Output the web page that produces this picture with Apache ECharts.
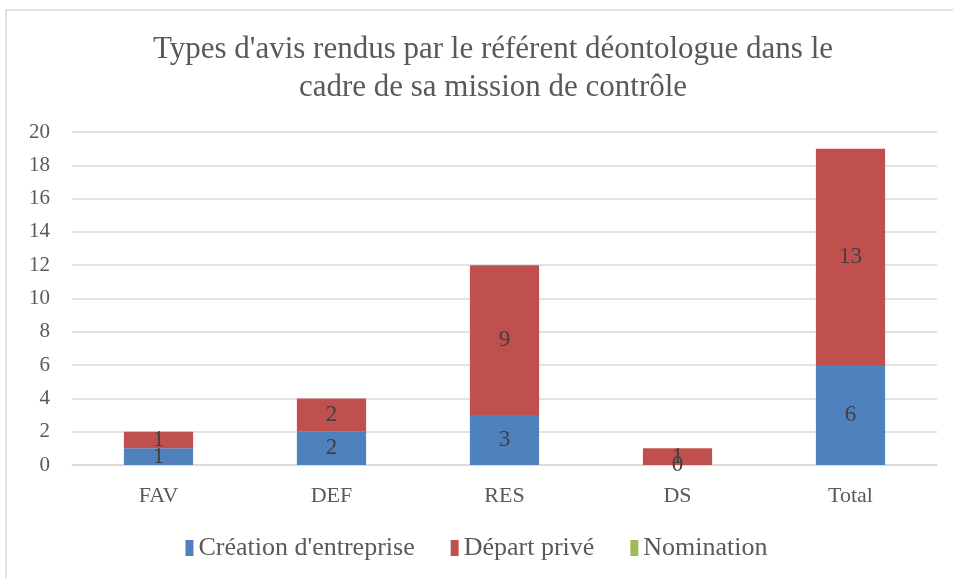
<!DOCTYPE html>
<html>
<head>
<meta charset="utf-8">
<script src="https://cdn.jsdelivr.net/npm/echarts@6/dist/echarts.min.js"></script>
<style>
  html, body { margin: 0; padding: 0; background: #fff; }
  #chart { width: 953px; height: 578px; }
</style>
</head>
<body>
<div id="chart"></div>
<script>
  // chart data
  const categories = ['FAV', 'DEF', 'RES', 'DS', 'Total'];
  const creation = [1, 2, 3, 0, 6];
  const depart = [1, 2, 9, 1, 13];
  const nomination = [null, null, null, null, null];
  const yTicks = { min: 0, max: 20, interval: 2 };

  const font = '"Liberation Serif", "DejaVu Serif", serif';
  const labelStyle = {
    show: true,
    position: 'inside',
    color: '#404040',
    fontSize: 23,
    fontFamily: font,
  };

  const chart = echarts.init(document.getElementById('chart'));

  chart.setOption({
    animation: false,
    backgroundColor: '#fff',
    graphic: [{
      type: 'rect',
      shape: { x: 6, y: 10, width: 1000, height: 700 },
      style: { fill: 'none', stroke: '#D9D9D9', lineWidth: 1.5 },
      silent: true,
      z: -1,
    }],
    title: {
      text: "Types d'avis rendus par le référent déontologue dans le\ncadre de sa mission de contrôle",
      left: 488,
      top: 26,
      textAlign: 'center',
      textStyle: {
        color: '#595959',
        fontSize: 31,
        fontWeight: 'normal',
        fontFamily: font,
        lineHeight: 38,
      },
    },
    legend: {
      bottom: 12,
      left: 'center',
      itemWidth: 8,
      itemHeight: 16,
      itemGap: 36,
      icon: 'rect',
      textStyle: {
        color: '#595959',
        fontSize: 26,
        fontFamily: font,
      },
      data: ["Création d'entreprise", 'Départ privé', 'Nomination'],
    },
    grid: {
      left: 72,
      right: 16,
      top: 132,
      bottom: 113,
    },
    xAxis: {
      type: 'category',
      data: categories,
      axisLine: { lineStyle: { color: '#D9D9D9', width: 1.5 } },
      axisTick: { show: false },
      axisLabel: {
        color: '#595959',
        fontSize: 22,
        fontFamily: font,
        margin: 20,
      },
    },
    yAxis: {
      type: 'value',
      min: yTicks.min,
      max: yTicks.max,
      interval: yTicks.interval,
      axisLine: { show: false },
      axisTick: { show: false },
      splitLine: { lineStyle: { color: '#D9D9D9', width: 1.5 } },
      axisLabel: {
        color: '#595959',
        fontSize: 21,
        fontFamily: font,
        margin: 22,
      },
    },
    series: [{
      name: "Création d'entreprise",
      type: 'bar',
      stack: 'total',
      barWidth: '40%',
      data: creation,
      itemStyle: { color: '#4F81BD' },
      label: labelStyle,
    }, {
      name: 'Départ privé',
      type: 'bar',
      stack: 'total',
      data: depart,
      itemStyle: { color: '#C0504D' },
      label: labelStyle,
    }, {
      name: 'Nomination',
      type: 'bar',
      stack: 'total',
      data: nomination,
      itemStyle: { color: '#9BBB59' },
      label: labelStyle,
    }],
  });

  window.addEventListener('resize', () => chart.resize());
</script>
</body>
</html>
